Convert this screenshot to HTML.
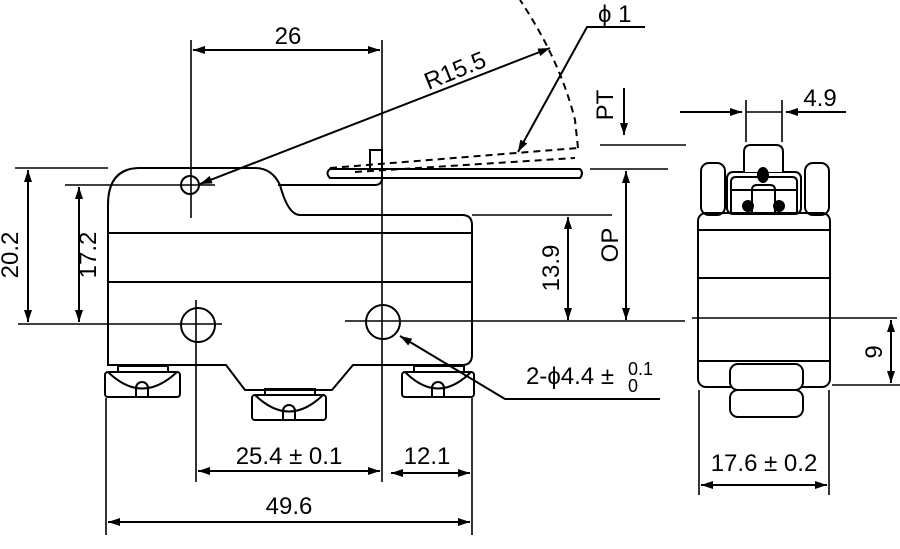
<!DOCTYPE html>
<html><head><meta charset="utf-8"><style>body{margin:0;background:#fff}svg{display:block}</style></head><body>
<svg width="900" height="549" viewBox="0 0 900 549" xmlns="http://www.w3.org/2000/svg" font-family="Liberation Sans, sans-serif" fill="none" stroke="#000" stroke-width="2">
<defs><marker id="a" viewBox="0 0 12 8" refX="12" refY="4" markerWidth="12" markerHeight="8" orient="auto-start-reverse" markerUnits="userSpaceOnUse"><path d="M0,0L12,4L0,8Z" fill="#000" stroke="none"/></marker></defs>
<path d="M108,365 L108,205 Q108,168 140,168 L255,168 Q272,168 280,185 Q288,215 300,215 L462,215 Q472,215 472,225 L472,355 Q472,365 462,365 L353,365 L332,390 L245,390 L226,365 Z"/>
<line x1="108" y1="233" x2="472" y2="233"/><line x1="108" y1="282" x2="472" y2="282"/>
<path d="M330,169 L580,169 Q584,173 580,178 L330,178 Q325,173 330,169Z"/>
<path d="M370,168 L370,150 L382,150 L382,178 Q382,185 375,185 L278,185" />
<path d="M330,168 L578,148 M355,172 L575,158 M578,148 L575,120 Q560,60 520,0" stroke-dasharray="7,5"/>
<circle cx="190" cy="185" r="9"/><circle cx="198" cy="325" r="17"/><circle cx="383" cy="322" r="17"/>
<g><rect x="105" y="372" width="75" height="25" rx="3"/><path d="M108,372 Q142,405 177,372 M136,396 v-8 a6,6 0 0 1 12,0 v8 M118,372 v-6 h50 v6"/></g>
<g><rect x="252" y="395" width="74" height="25" rx="3"/><path d="M255,395 Q289,428 323,395 M283,419 v-8 a6,6 0 0 1 12,0 v8 M265,395 v-6 h50 v6"/></g>
<g><rect x="402" y="372" width="72" height="25" rx="3"/><path d="M405,372 Q438,405 471,372 M432,396 v-8 a6,6 0 0 1 12,0 v8 M414,372 v-6 h50 v6"/></g>
<g stroke-width="1.6">
<line x1="191" y1="40" x2="191" y2="218"/><line x1="196" y1="300" x2="196" y2="482"/><line x1="382" y1="40" x2="382" y2="482"/>
<line x1="106" y1="398" x2="106" y2="535"/><line x1="472" y1="398" x2="472" y2="535"/>
<line x1="15" y1="168" x2="108" y2="168"/><line x1="65" y1="185" x2="215" y2="185"/><line x1="18" y1="324" x2="222" y2="324"/>
<line x1="345" y1="321" x2="685" y2="321"/><line x1="472" y1="215" x2="612" y2="215"/><line x1="590" y1="169" x2="668" y2="169"/><line x1="600" y1="145" x2="686" y2="145"/>
<line x1="692" y1="318" x2="897" y2="318"/><line x1="832" y1="385" x2="900" y2="385"/>
<line x1="746" y1="100" x2="746" y2="142"/><line x1="782" y1="100" x2="782" y2="142"/><line x1="746" y1="112" x2="782" y2="112"/>
<line x1="699" y1="390" x2="699" y2="495"/><line x1="829" y1="390" x2="829" y2="495"/>
</g>
<g marker-start="url(#a)" marker-end="url(#a)">
<line x1="28" y1="170" x2="28" y2="322"/><line x1="79" y1="187" x2="79" y2="322"/>
<line x1="193" y1="50" x2="380" y2="50"/><line x1="568" y1="217" x2="568" y2="320"/><line x1="626" y1="171" x2="626" y2="320"/>
<line x1="198" y1="471" x2="380" y2="471"/><line x1="391" y1="473" x2="470" y2="473"/><line x1="108" y1="522" x2="470" y2="522"/>
<line x1="891" y1="320" x2="891" y2="383"/><line x1="701" y1="485" x2="827" y2="485"/>
<line x1="550" y1="48" x2="200" y2="184"/>
</g>
<g marker-end="url(#a)">
<line x1="624" y1="88" x2="624" y2="135"/><line x1="680" y1="112" x2="742" y2="112"/><line x1="846" y1="112" x2="786" y2="112"/>
<polyline points="645,27 587,27 518,152"/><polyline points="660,399 505,399 400,336"/>
</g>
<rect x="698" y="213" width="132" height="174" rx="8"/>
<line x1="698" y1="230" x2="830" y2="230"/><line x1="698" y1="278" x2="830" y2="278"/><line x1="698" y1="361" x2="830" y2="361"/>
<rect x="701" y="163" width="24" height="52" rx="8"/><rect x="805" y="163" width="24" height="52" rx="8"/>
<rect x="727" y="172" width="74" height="42" rx="6"/><path d="M731,213 V182 Q731,177 736,177 H792 Q797,177 797,182 V213 M731,190 H797"/>
<path d="M744,172 V152 Q744,145 751,145 H776 Q783,145 783,152 V172" fill="#fff"/>
<path d="M752,213 V190 Q752,185 757,185 H770 Q775,185 775,190 V213"/>
<ellipse cx="763" cy="175" rx="5" ry="7" fill="#000"/><circle cx="748" cy="206" r="5" fill="#000"/><circle cx="779" cy="206" r="5" fill="#000"/>
<line x1="742" y1="361" x2="790" y2="361" stroke-width="1.5"/>
<rect x="730" y="364" width="73" height="26" rx="8" fill="#fff"/><rect x="730" y="390" width="73" height="27" rx="8"/>
<g fill="#000" stroke="none" font-size="24">
<text x="288" y="44" text-anchor="middle">26</text>
<text transform="translate(458,78) rotate(-22)" text-anchor="middle">R15.5</text>
<text x="598" y="22">ϕ 1</text>
<text transform="translate(613,105) rotate(-90)" text-anchor="middle">PT</text>
<text transform="translate(820,106)" text-anchor="middle">4.9</text>
<text transform="translate(18,255) rotate(-90)" text-anchor="middle">20.2</text>
<text transform="translate(96,255) rotate(-90)" text-anchor="middle">17.2</text>
<text transform="translate(559,268) rotate(-90)" text-anchor="middle">13.9</text>
<text transform="translate(618,245) rotate(-90)" text-anchor="middle">OP</text>
<text transform="translate(882,352) rotate(-90)" text-anchor="middle">9</text>
<text x="526" y="384">2-ϕ4.4 ±</text>
<text x="628" y="375" font-size="18">0.1</text><text x="628" y="392" font-size="18">0</text>
<text x="289" y="464" text-anchor="middle">25.4 ± 0.1</text>
<text x="427" y="464" text-anchor="middle">12.1</text>
<text x="289" y="514" text-anchor="middle">49.6</text>
<text x="764" y="471" text-anchor="middle">17.6 ± 0.2</text>
</g>
</svg>
</body></html>
